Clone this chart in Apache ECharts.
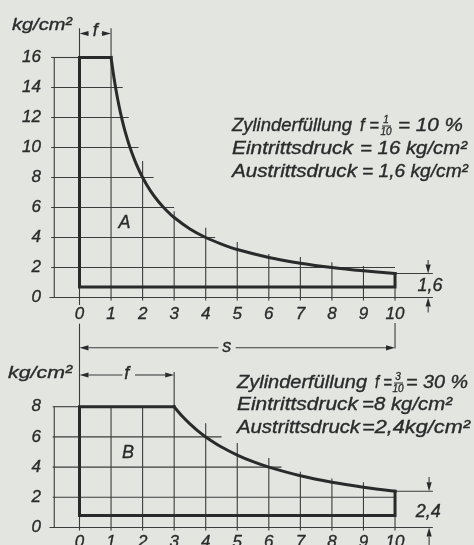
<!DOCTYPE html>
<html>
<head>
<meta charset="utf-8">
<script src="https://cdn.jsdelivr.net/npm/echarts@6/dist/echarts.min.js"></script>
<style>
  html, body { margin: 0; padding: 0; background: #e2e5e0; }
  #chart { width: 474px; height: 545px; }
</style>
</head>
<body>
<div id="chart"></div>
<script>
// Steam engine indicator diagrams: pressure (kg/cm²) over piston stroke s

const xTicks = [0, 1, 2, 3, 4, 5, 6, 7, 8, 9, 10];
const pTicksA = [0, 2, 4, 6, 8, 10, 12, 14, 16];
const pTicksB = [0, 2, 4, 6, 8];

// Diagram A: admission at 16, cut-off at 1/10 of the stroke, release at 1.6
const outlineA = [[1, 16], [0, 16], [0, 0.7], [10, 0.7], [10, 1.6]];
const expansionA = [[1, 16], [1.1, 14.55], [1.2, 13.33], [1.3, 12.31], [1.4, 11.43], [1.5, 10.67],
  [1.6, 10], [1.8, 8.89], [2, 8], [2.25, 7.11], [2.5, 6.4], [2.75, 5.82], [3, 5.33], [3.5, 4.57],
  [4, 4], [4.5, 3.56], [5, 3.2], [6, 2.67], [7, 2.29], [8, 2], [9, 1.78], [10, 1.6]];

// Diagram B: admission at 8, cut-off at 3/10 of the stroke, release at 2.4
const outlineB = [[3, 8], [0, 8], [0, 0.8], [10, 0.8], [10, 2.4]];
const expansionB = [[3, 8], [3.25, 7.38], [3.5, 6.86], [3.75, 6.4], [4, 6], [4.5, 5.33], [5, 4.8],
  [5.5, 4.36], [6, 4], [7, 3.43], [8, 3], [9, 2.67], [10, 2.4]];

// Thin ruling of each diagram: [x1, p1, x2, p2]
const rulingA = [
  [-0.9, 16, 0, 16], [-0.9, 14, 1.37, 14], [-0.9, 12, 1.56, 12], [-0.9, 10, 1.87, 10],
  [-0.9, 8, 2.35, 8], [-0.9, 6, 3, 6], [-0.9, 4, 4.3, 4], [-0.9, 2, 10, 2],
  [10, 1.6, 11.2, 1.6], [-0.95, 0, 11.2, 0], [-0.8, 0, -0.8, 16],
  [0, 17.95, 0, -0.5], [1, 17.95, 1, -0.2], [2, 9.1, 2, -0.2], [3, 5.75, 3, -0.2],
  [4, 4.65, 4, -0.2], [5, 3.7, 5, -0.2], [6, 2.9, 6, -0.2], [7, 2.7, 7, -0.2],
  [8, 2.35, 8, -0.2], [9, 2.1, 9, -0.2], [10, 1.6, 10, -0.2], [10, -1.7, 10, -3.4]
];
const rulingB = [
  [-0.85, 8, 0, 8], [-0.85, 6, 4.5, 6], [-0.85, 4, 6.4, 4], [-0.85, 2, 10, 2],
  [10, 2.4, 11.2, 2.4], [-0.95, 0, 11.2, 0], [-0.8, 0, -0.8, 8],
  [0, 13.5, 0, -0.2], [1, 8, 1, -0.2], [2, 8, 2, -0.2], [3, 10.3, 3, -0.2],
  [4, 6.9, 4, -0.2], [5, 5.6, 5, -0.2], [6, 4.6, 6, -0.2], [7, 3.7, 7, -0.2],
  [8, 3.25, 8, -0.2], [9, 3.0, 9, -0.2], [10, 2.4, 10, -0.2]
];

// Dimension arrows: [fromX, fromP, tipX, tipP]
const arrowsA = [
  [0.3, 17.6, 0, 17.6], [0.7, 17.6, 1, 17.6],
  [11.05, 2.5, 11.05, 1.6], [11.05, -1.0, 11.05, 0]
];
const arrowsB = [
  [1.36, 10.1, 0, 10.1], [1.76, 10.1, 3, 10.1],
  [4.4, 11.9, 0, 11.9], [4.95, 11.9, 10, 11.9],
  [11.08, 3.35, 11.08, 2.4], [11.08, -1.2, 11.08, 0]
];

// Letters inside the diagrams
const notesA = [[0.5, 17.75, 'f'], [1.43, 4.97, 'A'], [11.11, 0.77, '1,6']];
const notesB = [[1.5, 10.15, 'f'], [4.67, 11.95, 's'], [1.54, 4.93, 'B'], [11.05, 1.03, '2,4']];

const INK = '#2a2a2a';
const THIN = '#3c3c3c';
const FAMILY = '"Liberation Sans", Arial, sans-serif';
const font = (size) => 'italic ' + size + 'px ' + FAMILY;

const measureCtx = document.createElement('canvas').getContext('2d');
// Text squeezed or stretched horizontally to a given width
function fitText(str, left, cy, width, size) {
  measureCtx.font = font(size);
  const w = measureCtx.measureText(str).width;
  return {
    type: 'text', x: left, y: cy, scaleX: width / w, silent: true,
    style: { text: str, font: font(size), fill: INK, stroke: INK, lineWidth: 0.35,
      align: 'left', verticalAlign: 'middle', textAlign: 'left', textVerticalAlign: 'middle' }
  };
}
function centerText(str, cx, cy, size) {
  return {
    type: 'text', x: cx, y: cy, silent: true,
    style: { text: str, font: font(size), fill: INK, stroke: INK, lineWidth: 0.3,
      align: 'center', verticalAlign: 'middle', textAlign: 'center', textVerticalAlign: 'middle' }
  };
}
function bar(x1, x2, y) {
  return { type: 'line', silent: true, shape: { x1: x1, y1: y, x2: x2, y2: y },
    style: { stroke: INK, lineWidth: 1 } };
}

function rulingSeries(data, gi) {
  return {
    type: 'custom', xAxisIndex: gi, yAxisIndex: gi, clip: false, silent: true,
    encode: { x: [0, 2], y: [1, 3] },
    data: data,
    renderItem: function (params, api) {
      const a = api.coord([api.value(0), api.value(1)]);
      const b = api.coord([api.value(2), api.value(3)]);
      return { type: 'line', shape: { x1: a[0], y1: a[1], x2: b[0], y2: b[1] },
        style: { stroke: THIN, lineWidth: 1.1 } };
    }
  };
}
function arrowSeries(data, gi) {
  return {
    type: 'custom', xAxisIndex: gi, yAxisIndex: gi, clip: false, silent: true,
    encode: { x: [0, 2], y: [1, 3] },
    data: data,
    renderItem: function (params, api) {
      const a = api.coord([api.value(0), api.value(1)]);
      const b = api.coord([api.value(2), api.value(3)]);
      const dx = b[0] - a[0], dy = b[1] - a[1];
      const len = Math.sqrt(dx * dx + dy * dy) || 1;
      const ux = dx / len, uy = dy / len;
      const L = 9, W = 2.6;
      const bx = b[0] - ux * L, by = b[1] - uy * L;
      return { type: 'group', children: [
        { type: 'line', shape: { x1: a[0], y1: a[1], x2: bx, y2: by },
          style: { stroke: THIN, lineWidth: 1.1 } },
        { type: 'polygon', shape: { points: [[b[0], b[1]],
          [bx - uy * W, by + ux * W], [bx + uy * W, by - ux * W]] },
          style: { fill: INK } }
      ] };
    }
  };
}
function noteSeries(data, gi) {
  return {
    type: 'custom', xAxisIndex: gi, yAxisIndex: gi, clip: false, silent: true,
    encode: { x: 0, y: 1 },
    data: data.map(d => [d[0], d[1]]),
    renderItem: function (params, api) {
      const p = api.coord([api.value(0), api.value(1)]);
      return { type: 'text', x: p[0], y: p[1],
        style: { text: data[params.dataIndex][2], font: font(18), fill: INK,
          stroke: INK, lineWidth: 0.35, align: 'center', verticalAlign: 'middle' } };
    }
  };
}
function cardSeries(data, gi, smooth) {
  return {
    type: 'line', xAxisIndex: gi, yAxisIndex: gi, data: data, showSymbol: false,
    symbol: 'none', smooth: smooth ? 0.3 : false,
    clip: false, silent: true, z: 5,
    lineStyle: { color: INK, width: 3, join: 'miter', cap: 'square' }
  };
}

const labelStyle = { fontFamily: FAMILY, fontStyle: 'italic', fontSize: 17, color: INK,
  textBorderColor: INK, textBorderWidth: 0.35 };
function xAxisDef(gi, margin) {
  return {
    gridIndex: gi, type: 'value', min: -1, max: 11.5, interval: 1,
    axisLine: { show: false }, axisTick: { show: false }, splitLine: { show: false },
    axisLabel: Object.assign({ margin: margin, showMinLabel: true, showMaxLabel: false,
      formatter: v => xTicks.indexOf(v) >= 0 ? String(v) : '' }, labelStyle)
  };
}
function yAxisDef(gi, max, ticks) {
  return {
    gridIndex: gi, type: 'value', min: 0, max: max, interval: 2,
    axisLine: { show: false }, axisTick: { show: false }, splitLine: { show: false },
    axisLabel: Object.assign({ margin: 7,
      formatter: v => ticks.indexOf(v) >= 0 ? String(v) : '' }, labelStyle)
  };
}

const chart = echarts.init(document.getElementById('chart'), null, { renderer: 'canvas' });
chart.setOption({
  backgroundColor: '#e2e5e0',
  animation: false,
  grid: [
    { left: 47.95, top: 27.5, width: 394.4, height: 270, containLabel: false, outerBoundsMode: 'none' },
    { left: 47.95, top: 316.1, width: 394.4, height: 211.4, containLabel: false, outerBoundsMode: 'none' }
  ],
  xAxis: [xAxisDef(0, 8), xAxisDef(1, 6)],
  yAxis: [yAxisDef(0, 18, pTicksA), yAxisDef(1, 14, pTicksB)],
  series: [
    rulingSeries(rulingA, 0), rulingSeries(rulingB, 1),
    arrowSeries(arrowsA, 0), arrowSeries(arrowsB, 1),
    cardSeries(outlineA, 0, false), cardSeries(expansionA, 0, true),
    cardSeries(outlineB, 1, false), cardSeries(expansionB, 1, true),
    noteSeries(notesA, 0), noteSeries(notesB, 1)
  ],
  graphic: [
    fitText('kg/cm²', 12, 25, 60, 17),
    fitText('kg/cm²', 8, 373, 64, 17),
    // block A
    fitText('Zylinderfüllung', 232, 126, 120, 18),
    fitText('f =', 360, 126, 19, 18),
    centerText('1', 386, 120, 10), bar(382, 391, 126), centerText('10', 386, 132, 10),
    fitText('= 10 %', 398, 126, 65, 18),
    fitText('Eintrittsdruck', 232, 149, 121, 18),
    fitText('= 16 kg/cm²', 360, 149, 107, 18),
    fitText('Austrittsdruck', 232, 172, 125, 18),
    fitText('= 1,6 kg/cm²', 362, 172, 106, 18),
    // block B
    fitText('Zylinderfüllung', 237, 383, 130, 18),
    fitText('f =', 375, 383, 17, 18),
    centerText('3', 398, 377, 10), bar(394, 403, 383), centerText('10', 398, 389, 10),
    fitText('= 30 %', 406, 383, 62, 18),
    fitText('Eintrittsdruck', 237, 405, 121, 18),
    fitText('=8 kg/cm²', 362, 405, 90, 18),
    fitText('Austrittsdruck', 237, 428, 123, 18),
    fitText('=2,4kg/cm²', 362, 428, 108, 18)
  ]
});
</script>
</body>
</html>
